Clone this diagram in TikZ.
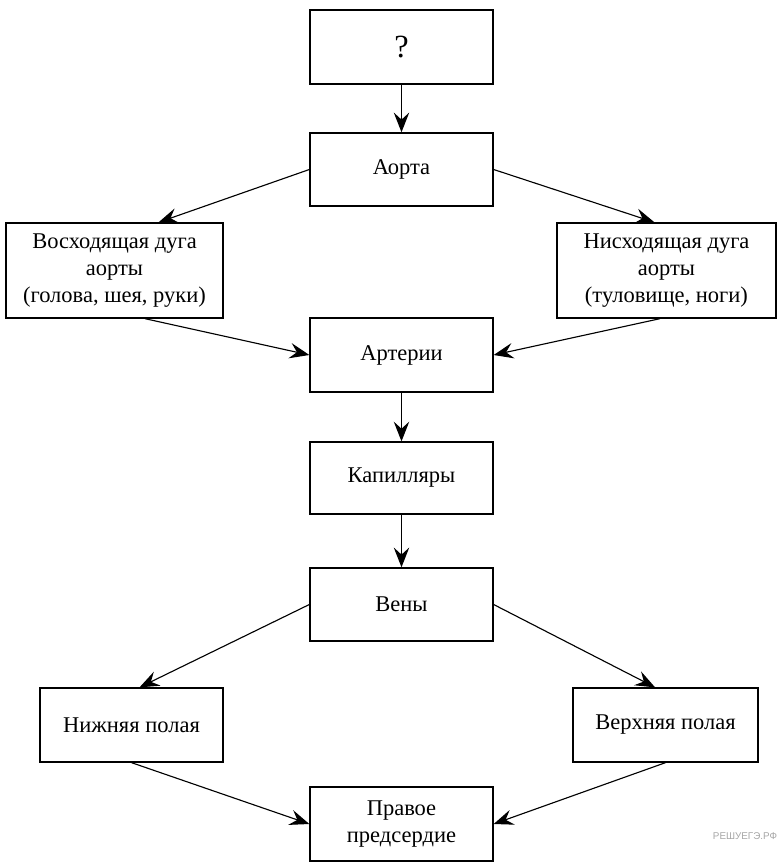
\documentclass[tikz,border=0pt]{standalone}
\usepackage{fontspec}
\setmainfont{Liberation Serif}
\newfontfamily\wmfont{Liberation Sans}
\usetikzlibrary{arrows.meta}
\begin{document}
\begin{tikzpicture}[x=0.025cm, y=-0.025cm,
        box/.style={draw, line width=0.9pt, align=center, minimum width=4.575cm,
            minimum height=1.83cm, inner sep=0pt, font=\fontsize{16}{19.2}\selectfont},
        flow/.style={-{Stealth[length=14pt, width=11pt, inset=5pt]}, line width=0.8pt}]
        \useasboundingbox (0, 0) rectangle (780, 862);
        \node[box, minimum height=1.85cm, font=\fontsize{23}{26}\selectfont] (q) at (401.5, 47) {?};
        \node[box] (aorta) at (401.5, 169.5) {Аорта};
        \node[box, minimum width=5.425cm, minimum height=2.375cm] (voskh) at (114.5, 270.5) {Восходящая дуга\\аорты\\(голова, шея, руки)};
        \node[box, minimum width=5.475cm, minimum height=2.375cm] (niskh) at (666.5, 270.5) {Нисходящая дуга\\аорты\\(туловище, ноги)};
        \node[box, minimum height=1.85cm] (arterii) at (401.5, 355) {Артерии};
        \node[box, minimum height=1.8cm] (kapill) at (401.5, 478) {Капилляры};
        \node[box] (veny) at (401.5, 604.5) {Вены};
        \node[box, minimum height=1.85cm] (nizh) at (131.5, 725) {Нижняя полая};
        \node[box, minimum width=4.625cm, minimum height=1.85cm] (verkh) at (665.5, 725) {Верхняя полая};
        \node[box, minimum height=1.85cm] (predserd) at (401.5, 824) {Правое\\предсердие};
        \node[text=black!35, font=\wmfont\fontsize{7}{8}\selectfont] (wm) at (745, 836) {РЕШУЕГЭ.РФ};
        % стрелки
        \draw[flow] (q) -- (aorta);
        \draw[flow] (aorta.west) -- ([xshift=1.1cm]voskh.north);
        \draw[flow] (aorta.east) -- ([xshift=-0.3cm]niskh.north);
        \draw[flow] ([xshift=0.76cm]voskh.south) -- (arterii.west);
        \draw[flow] ([xshift=-0.16cm]niskh.south) -- (arterii.east);
        \draw[flow] (arterii) -- (kapill);
        \draw[flow] (kapill) -- (veny);
        \draw[flow] (veny.west) -- ([xshift=0.2cm]nizh.north);
        \draw[flow] (veny.east) -- ([xshift=-0.26cm]verkh.north);
        \draw[flow] (nizh.south) -- (predserd.west);
        \draw[flow] (verkh.south) -- (predserd.east);
\end{tikzpicture}
\end{document}
